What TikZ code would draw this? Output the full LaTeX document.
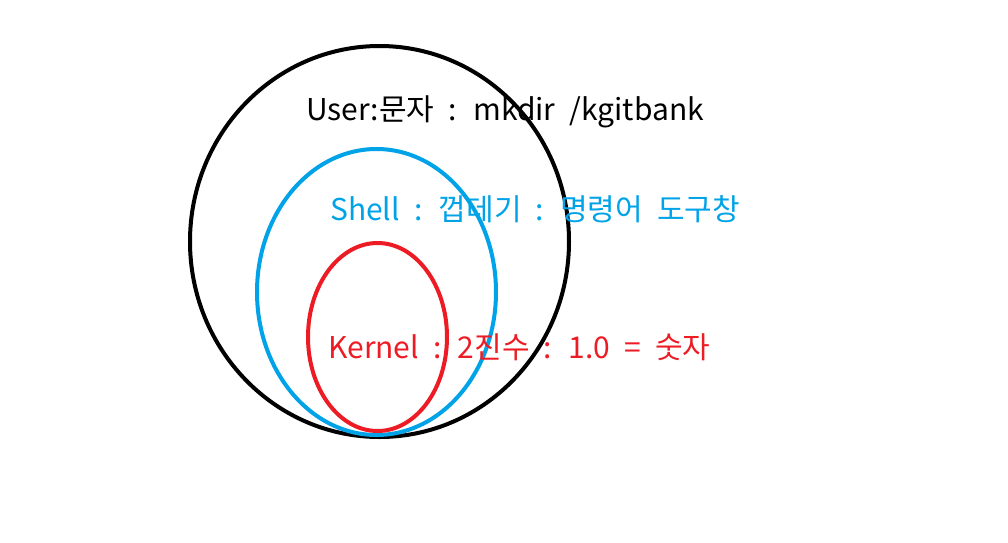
\documentclass[tikz,border=0pt]{standalone}
\usepackage{fontspec}
\setmainfont[WordSpace=2.1]{Noto Sans CJK KR}
\definecolor{UserBlack}{RGB}{0,0,0}
\definecolor{ShellBlue}{RGB}{0,162,232}
\definecolor{KernelRed}{RGB}{237,28,36}
\usepackage{tikz}
\usetikzlibrary{positioning}

\begin{document}
\begin{tikzpicture}[x=0.75pt,y=-0.75pt,
    layer/.style={line width=3pt},
    label/.style={anchor=base west,inner sep=0pt,font=\fontsize{22.5}{26}\selectfont}]
  \useasboundingbox (0,0) rectangle (1008,543);
  % the three layers
  \draw[layer,UserBlack] (379.5,241.5) ellipse (189.5 and 195.5);
  \draw[layer,ShellBlue] (376.5,292) ellipse (119.5 and 143);
  \draw[layer,KernelRed] (377.5,337) ellipse (69.5 and 94);
  % texts
  \node[label,UserBlack] (user) at (306,120) {User:문자 : mkdir /kgitbank};
  \node[label,ShellBlue] (shell) at (330,220) {Shell : 껍데기 : 명령어 도구창};
  \node[label,KernelRed] (kernel) at (328,358) {Kernel : 2진수 : 1.0 = 숫자};
\end{tikzpicture}
\end{document}
